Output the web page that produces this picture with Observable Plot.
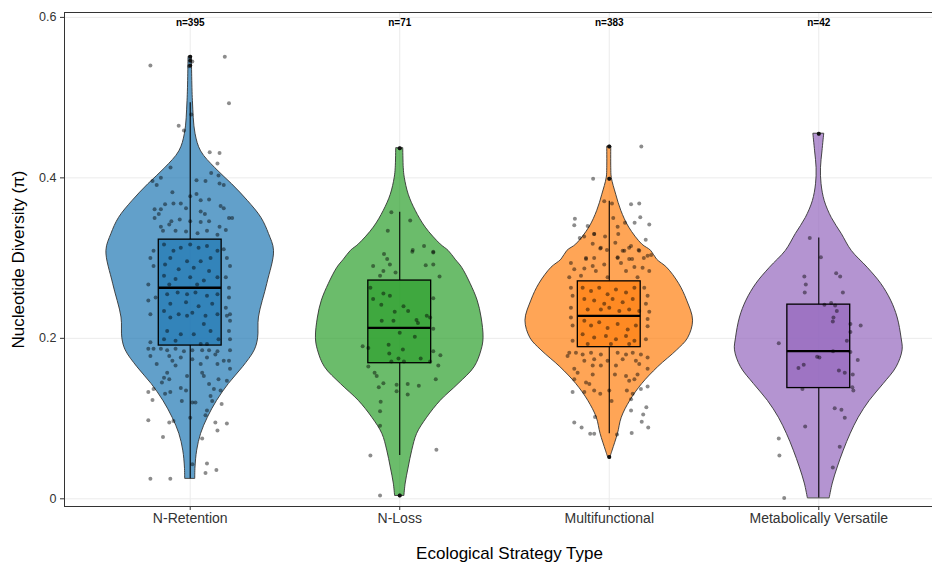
<!DOCTYPE html>
<html><head><meta charset="utf-8">
<script src="https://cdn.jsdelivr.net/npm/d3@7"></script>
<script src="https://cdn.jsdelivr.net/npm/@observablehq/plot@0.6"></script>
<style>html,body{margin:0;padding:0;overflow:hidden;background:#fff;} #chart{width:932px;height:567px;overflow:hidden;} #chart svg{max-width:none !important;width:944px !important;height:567px !important;}</style>
</head><body><div id="chart"></div><script>
const categories = ["N-Retention", "N-Loss", "Multifunctional", "Metabolically Versatile"];
const sampleSizes = [395, 71, 383, 42];
const colors = ["#1f77b4", "#2ca02c", "#ff7f0e", "#9467bd"];
const yTicks = [0, 0.2, 0.4, 0.6];

// box-plot statistics
const q1 = [0.191, 0.169, 0.189, 0.138];
const medians = [0.263, 0.213, 0.228, 0.184];
const q3 = [0.323, 0.272, 0.271, 0.242];
const whiskerLow = [0.025, 0.054, 0.081, 0.001];
const whiskerHigh = [0.4935, 0.357, 0.371, 0.325];
const outliers = [[0.551, 0.546, 0.540], [0.437, 0.004], [0.439, 0.399, 0.052], [0.455]];

// violin profiles: [value, relative half-width]
const violinRetention = [[0.0253,0.06],[0.039,0.063],[0.06,0.083],[0.081,0.13],[0.101,0.21],[0.122,0.32],[0.143,0.46],[0.164,0.63],[0.185,0.77],[0.2,0.81],[0.226,0.82],[0.268,0.92],[0.309,1.0],[0.33,0.94],[0.35,0.85],[0.371,0.69],[0.392,0.5],[0.412,0.30],[0.433,0.13],[0.455,0.063],[0.496,0.032],[0.551,0.02]];
const violinLoss = [[0.004,0.056],[0.019,0.071],[0.039,0.107],[0.06,0.149],[0.081,0.208],[0.101,0.327],[0.122,0.488],[0.143,0.702],[0.164,0.893],[0.185,0.976],[0.2,1.0],[0.226,0.976],[0.247,0.929],[0.268,0.845],[0.288,0.744],[0.298,0.667],[0.309,0.583],[0.317,0.488],[0.338,0.31],[0.359,0.19],[0.379,0.107],[0.40,0.06],[0.412,0.048],[0.437,0.042]];
const violinMulti = [[0.052,0.015],[0.06,0.04],[0.081,0.104],[0.101,0.149],[0.122,0.25],[0.143,0.393],[0.164,0.583],[0.185,0.81],[0.2,0.94],[0.222,1.0],[0.247,0.929],[0.268,0.833],[0.288,0.69],[0.298,0.571],[0.309,0.5],[0.317,0.393],[0.338,0.238],[0.359,0.143],[0.379,0.083],[0.40,0.03],[0.412,0.024],[0.439,0.024]];
const violinVersatile = [[0.001,0.131],[0.019,0.167],[0.039,0.226],[0.06,0.298],[0.081,0.381],[0.101,0.476],[0.122,0.607],[0.143,0.774],[0.164,0.929],[0.185,1.0],[0.2,0.988],[0.226,0.94],[0.247,0.863],[0.268,0.744],[0.288,0.583],[0.309,0.393],[0.33,0.274],[0.35,0.155],[0.371,0.071],[0.392,0.033],[0.412,0.026],[0.433,0.044],[0.455,0.065]];

// jittered observations: [horizontal jitter (category units), value]
const pointsRetention = [
[-0.19,0.540],[0.165,0.551],[0,0.551],[0.01,0.545],[-0.005,0.539],[0.185,0.493],[-0.055,0.465],[-0.03,0.459],[0.005,0.479],[0.093,0.432],[0.14,0.431],[0.13,0.418],[-0.094,0.413],[-0.14,0.40],[-0.18,0.396],[-0.16,0.391],[0.1,0.406],[0.135,0.403],[0.073,0.396],[0.16,0.391],[0.14,0.393],[0.03,0.397],[-0.085,0.382],[0,0.377],[0.03,0.38],[0.05,0.372],[0.09,0.373],[-0.045,0.368],[-0.08,0.368],[-0.12,0.367],[-0.17,0.361],[-0.14,0.361],[-0.02,0.362],[0.05,0.358],[0.07,0.355],[0.145,0.365],[0.16,0.362],[0.185,0.35],[0.2,0.35],[-0.15,0.355],[-0.17,0.35],[-0.09,0.346],[-0.05,0.348],[0,0.346],[0.05,0.345],[0.09,0.346],[-0.14,0.339],[-0.1,0.342],[-0.13,0.334],[-0.07,0.334],[-0.02,0.333],[0.14,0.339],[0.17,0.335],[0.035,0.331],[0.08,0.334],[0.13,0.329],
[-0.125,0.317],[-0.08,0.309],[-0.045,0.313],[0,0.317],[0.04,0.313],[0.08,0.315],[0.13,0.309],[-0.095,0.30],[-0.015,0.296],[0.05,0.296],[0.097,0.30],[-0.12,0.292],[-0.055,0.286],[0.017,0.288],[0.09,0.284],[-0.125,0.278],[-0.07,0.274],[0,0.276],[0.065,0.272],[0.13,0.276],[-0.1,0.267],[0.033,0.267],
[-0.19,0.30],[-0.175,0.29],[-0.2,0.267],[0.175,0.30],[0.19,0.29],[0.17,0.276],[0.185,0.263],[-0.175,0.309],[0.16,0.311],[-0.165,0.251],[-0.2,0.247],[0.185,0.251],[0.17,0.238],[-0.19,0.23],[0.19,0.23],
[-0.11,0.255],[-0.06,0.257],[-0.015,0.255],[0.025,0.257],[0.08,0.253],[0.13,0.255],[-0.095,0.243],[-0.02,0.245],[0.04,0.24],[0.105,0.243],[-0.125,0.234],[-0.055,0.23],[0.01,0.232],[0.073,0.228],[0.13,0.23],
[-0.095,0.226],[-0.015,0.228],[0.065,0.218],[-0.11,0.209],[-0.045,0.205],[0.017,0.205],[0.097,0.209],[-0.125,0.199],[-0.07,0.197],[0.05,0.193],[0.08,0.193],[0.135,0.199],
[0.175,0.228],[0.19,0.222],[0.185,0.209],[0.19,0.199],[-0.19,0.195],
[-0.2,0.187],[-0.175,0.187],[-0.14,0.187],[-0.11,0.185],[-0.07,0.187],[-0.03,0.184],[0.01,0.185],[0.057,0.185],[0.09,0.185],[0.13,0.184],[0.19,0.185],[-0.19,0.178],[-0.1,0.178],[-0.045,0.176],[0.01,0.174],[0.08,0.176],[0.12,0.18],[0.16,0.172],[0.185,0.172],[-0.085,0.172],[-0.16,0.168],[-0.07,0.166],[0.05,0.168],[0.13,0.168],[0.19,0.162],[-0.11,0.157],[0.057,0.157],[-0.015,0.153],[-0.125,0.151],[-0.1,0.149],[-0.135,0.145],[0.065,0.153],[0.135,0.149],[0.175,0.147],[0.09,0.143],[-0.045,0.138],[-0.02,0.135],[0.113,0.137],[0.145,0.135],[-0.175,0.137],[-0.095,0.133],[-0.2,0.133],[-0.12,0.131],[0.097,0.128],[-0.18,0.123],[-0.04,0.122],[0.025,0.12],[0.01,0.12],[0.105,0.122],[0.15,0.118],[0.08,0.11],[0.073,0.104],[0,0.101],[-0.2,0.098],[-0.1,0.095],[-0.08,0.097],[0.12,0.095],[0.175,0.094],[0.13,0.085],[-0.13,0.077],[0.057,0.075],[0.01,0.043],[0.08,0.044],[0.073,0.032],[0.125,0.036],[-0.19,0.025],[-0.095,0.025]
];
const pointsLoss = [
[0,0.437],[-0.04,0.357],[0.05,0.347],[-0.057,0.334],[-0.075,0.305],[-0.06,0.299],[0.062,0.31],[0.116,0.315],[0.16,0.308],
[-0.047,0.292],[-0.127,0.29],[-0.078,0.284],[-0.02,0.282],[-0.094,0.278],[0.124,0.291],[0.16,0.292],[0.16,0.307],[0.06,0.308],[0.19,0.277],
[-0.14,0.263],[-0.078,0.256],[-0.047,0.253],[-0.127,0.249],[0.16,0.25],[-0.088,0.242],[-0.024,0.233],[0.018,0.24],[0.04,0.234],[0.129,0.228],[0.145,0.226],[-0.086,0.222],[-0.03,0.222],[0.08,0.223],[0.087,0.219],[0.16,0.212],[0,0.207],[0.072,0.202],
[-0.177,0.19],[-0.15,0.188],[-0.053,0.192],[0.015,0.186],[-0.05,0.181],[0.16,0.184],[0.194,0.179],[-0.04,0.171],[-0.006,0.175],[0.02,0.171],[0.1,0.175],[0.145,0.171],[0.184,0.166],
[-0.15,0.165],[-0.12,0.157],[-0.11,0.153],[0.172,0.149],[-0.078,0.144],[-0.1,0.139],[-0.015,0.142],[0.038,0.143],[0.091,0.141],[-0.015,0.134],[0.038,0.130],[-0.091,0.121],[-0.094,0.109],[-0.094,0.091],[-0.14,0.054],[0.175,0.061],[-0.094,0.004],[0,0.004]
];
const pointsMulti = [
[0.153,0.439],[0,0.439],[-0.077,0.399],[0,0.399],[0.104,0.367],[0.143,0.368],[-0.024,0.371],[0.013,0.368],[-0.164,0.349],[-0.167,0.341],[-0.103,0.34],[0.019,0.35],[0.075,0.344],[0.121,0.344],[0.148,0.351],[0.191,0.342],[0.04,0.339],[-0.072,0.33],[-0.02,0.327],[-0.141,0.325],[-0.12,0.327],[0.174,0.323],[0.029,0.319],[-0.043,0.312],[-0.011,0.31],[0.072,0.309],[0.095,0.313],[0.14,0.31],[-0.111,0.30],[-0.072,0.30],[0.04,0.301],[0.109,0.299],[0.165,0.30],[0.2,0.304],
[-0.079,0.318],[-0.072,0.33],[-0.04,0.313],[0.043,0.33],[0.064,0.309],[0.104,0.315],[0.143,0.309],
[-0.183,0.294],[-0.167,0.286],[-0.111,0.299],[-0.119,0.287],[-0.079,0.29],[-0.064,0.284],[-0.024,0.292],[0.04,0.30],[0.056,0.294],[0.095,0.299],[0.08,0.284],[0.12,0.289],[0.159,0.288],[0.191,0.284],[0.183,0.303],[-0.135,0.278],[-0.008,0.276],[0.135,0.276],[-0.191,0.276],
[-0.127,0.263],[-0.087,0.259],[-0.048,0.263],[-0.008,0.255],[0.032,0.261],[0.08,0.257],[0.12,0.263],[-0.119,0.249],[-0.072,0.247],[-0.024,0.243],[0.016,0.249],[0.064,0.245],[0.112,0.249],[-0.103,0.236],[-0.04,0.236],[0,0.238],[0.048,0.234],[0.095,0.236],[0.143,0.234],
[-0.183,0.263],[-0.175,0.253],[0.167,0.263],[0.183,0.253],[0.175,0.243],[-0.183,0.238],[0.191,0.233],
[-0.119,0.222],[-0.087,0.216],[-0.048,0.22],[-0.008,0.213],[0.04,0.218],[0.088,0.211],[0.127,0.216],[-0.127,0.205],[-0.072,0.201],[-0.016,0.203],[0.032,0.199],[0.08,0.203],[0.12,0.197],[-0.103,0.193],[0.008,0.193],[0.095,0.193],
[-0.183,0.226],[-0.175,0.216],[0.183,0.224],[0.183,0.215],[0.175,0.199],[-0.175,0.197],
[-0.191,0.182],[-0.159,0.182],[-0.127,0.18],[-0.087,0.182],[-0.04,0.18],[0.04,0.182],[0.08,0.18],[0.112,0.182],[0.151,0.18],[0.183,0.176],[-0.199,0.178],[-0.119,0.172],[-0.072,0.174],[-0.008,0.172],[0.064,0.174],[0.127,0.172],[-0.167,0.162],[-0.079,0.166],[-0.04,0.166],[0.032,0.166],[0.143,0.168],[0.183,0.162],[-0.151,0.157],[-0.079,0.155],[0.027,0.155],[0.08,0.153],[0.095,0.147],[0.12,0.149],[0.135,0.155],[-0.111,0.145],[-0.095,0.143],[-0.167,0.149],
[-0.175,0.133],[-0.119,0.133],[-0.072,0.135],[-0.043,0.131],[0,0.135],[0.084,0.135],[0.112,0.131],[0.151,0.137],[0.183,0.14],[0.104,0.124],[0.011,0.122],[-0.068,0.102],[-0.167,0.095],[-0.132,0.089],[0.104,0.11],[0.177,0.114],[0.162,0.105],[0.155,0.096],[0.186,0.089],[0.107,0.082],[-0.091,0.081],[-0.072,0.081],[0.037,0.08],[0,0.052]
];
const pointsVersatile = [
[0,0.455],[-0.043,0.325],[0.01,0.301],[-0.069,0.277],[-0.062,0.267],[-0.067,0.257],[0.083,0.281],[0.102,0.277],[0.115,0.257],[0.027,0.242],[0.059,0.244],[0.078,0.241],[0.086,0.234],[0.07,0.226],[0.067,0.221],[0.151,0.218],[0.2,0.216],[0.151,0.208],[0.134,0.197],[-0.191,0.194],[0.068,0.184],[0.151,0.183],[-0.008,0.177],[0.003,0.176],[0.186,0.173],[-0.072,0.167],[-0.097,0.163],[0.096,0.16],[0.124,0.157],[0.162,0.155],[-0.078,0.137],[0.16,0.139],[0.165,0.135],[0.076,0.113],[0.108,0.111],[0.124,0.101],[-0.065,0.09],[-0.191,0.075],[0.1,0.065],[-0.188,0.054],[0.067,0.039],[-0.165,0.001]
];

const violins = [violinRetention, violinLoss, violinMulti, violinVersatile];
const pointSets = [pointsRetention, pointsLoss, pointsMulti, pointsVersatile];
const violinHalf = 0.4, boxHalf = 0.15;
const font = "'Liberation Sans', Arial, Helvetica, sans-serif";

const marks = [
  Plot.ruleY(yTicks, {stroke: "#ebebeb", strokeWidth: 1}),
  Plot.ruleX([1, 2, 3, 4], {stroke: "#ebebeb", strokeWidth: 1})
];
categories.forEach((c, k) => {
  const i = k + 1;
  const prof = violins[k].map(([y, w]) => ({y, w}));
  marks.push(Plot.areaX(prof, {y: "y", x1: d => i - d.w * violinHalf, x2: d => i + d.w * violinHalf,
    fill: colors[k], fillOpacity: 0.7, stroke: "#333", strokeWidth: 0.9, curve: "catmull-rom"}));
  marks.push(Plot.ruleX([k], {x: i, y1: q3[k], y2: whiskerHigh[k], stroke: "#000", strokeWidth: 1.1}));
  marks.push(Plot.ruleX([k], {x: i, y1: whiskerLow[k], y2: q1[k], stroke: "#000", strokeWidth: 1.1}));
  marks.push(Plot.rect([k], {x1: i - boxHalf, x2: i + boxHalf, y1: q1[k], y2: q3[k],
    fill: colors[k], fillOpacity: 0.7, stroke: "#000", strokeWidth: 1.3}));
  marks.push(Plot.ruleY([k], {y: medians[k], x1: i - boxHalf, x2: i + boxHalf, stroke: "#000", strokeWidth: 2.4}));
  marks.push(Plot.dot(pointSets[k], {x: d => i + d[0], y: d => d[1], r: 2, fill: "#000", fillOpacity: 0.45, stroke: "none"}));
  marks.push(Plot.dot(outliers[k], {x: i, y: d => d, r: 2, fill: "#111"}));
});
marks.push(
  Plot.text(categories, {x: (d, k) => k + 1, text: (d, k) => "n=" + sampleSizes[k], frameAnchor: "top", dy: 10,
    lineAnchor: "middle", textAnchor: "middle", fontWeight: "bold", fontSize: 10, fill: "#000"}),
  Plot.frame({stroke: "#333", strokeWidth: 1}),
  Plot.axisY(yTicks, {tickFormat: d => d === 0 ? "0" : d.toFixed(1), tickSize: 4, tickPadding: 4, fontSize: 12.5,
    label: null, color: "#333"}),
  Plot.axisX([1, 2, 3, 4], {tickFormat: d => categories[d - 1], tickSize: 4, tickPadding: 3, fontSize: 14,
    label: null, color: "#333"}),
  Plot.text(["Ecological Strategy Type"], {frameAnchor: "bottom", dy: 47, dx: 5, lineAnchor: "middle",
    textAnchor: "middle", fontSize: 17, fill: "#000"}),
  Plot.text(["Nucleotide Diversity (π)"], {frameAnchor: "left", dx: -46, rotate: -90, lineAnchor: "middle",
    textAnchor: "middle", fontSize: 17, fill: "#000"})
);

const chart = Plot.plot({
  width: 944, height: 567,
  marginLeft: 64, marginRight: 0, marginTop: 12, marginBottom: 61,
  x: {domain: [0.4, 4.6]},
  y: {domain: [-0.0096, 0.6061]},
  style: {fontFamily: font, background: "#fff", overflow: "visible", maxWidth: "none"},
  marks
});
chart.style.maxWidth = "none";
chart.style.width = "944px";
chart.style.height = "567px";
document.getElementById("chart").appendChild(chart);
</script></body></html>
